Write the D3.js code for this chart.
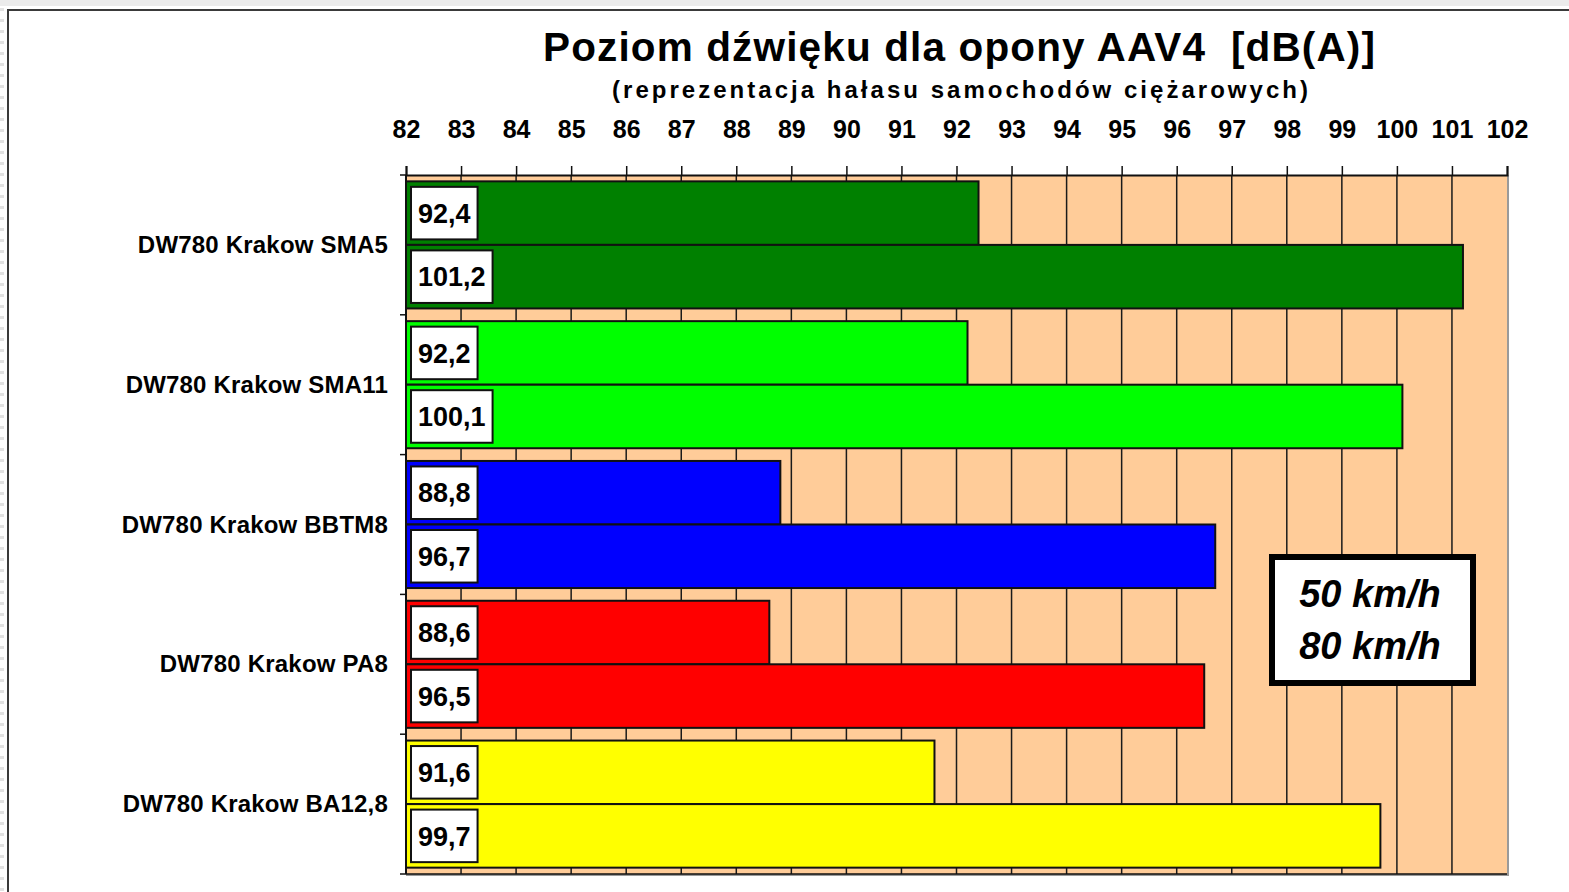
<!DOCTYPE html>
<html>
<head>
<meta charset="utf-8">
<script src="https://cdn.jsdelivr.net/npm/d3@7"></script>
<style>
  body { margin: 0; background: #fff; }
  svg { display: block; font-family: "Liberation Sans", Arial, sans-serif; }
</style>
</head>
<body>
<div id="chart"></div>
<script>
var categories = ["DW780 Krakow SMA5", "DW780 Krakow SMA11", "DW780 Krakow BBTM8", "DW780 Krakow PA8", "DW780 Krakow BA12,8"];
var series = ["50 km/h", "80 km/h"];
var values50 = [92.4, 92.2, 88.8, 88.6, 91.6];
var values80 = [101.2, 100.1, 96.7, 96.5, 99.7];
var barColors = ["#008000", "#00ff00", "#0000ff", "#ff0000", "#ffff00"];
var xTicks = d3.range(82, 103);

var width = 1569, height = 892;
var margin = {top: 175, right: 62, bottom: 18, left: 406}; // plot area
var plotW = width - margin.left - margin.right;
var plotH = height - margin.top - margin.bottom;

var pl = d3.formatLocale({decimal: ",", thousands: " ", grouping: [3], currency: ["", " zł"]});
var fmt = pl.format(".1f");

var svg = d3.select("#chart").append("svg")
  .attr("width", width)
  .attr("height", height);

// page frame
svg.append("rect").attr("x", 0).attr("y", 0).attr("width", width).attr("height", 6).attr("fill", "#ebebeb");
svg.selectAll(".dash").data(d3.range(8, height, 11)).enter().append("rect")
  .attr("x", 0).attr("y", function(d) { return d; }).attr("width", 4).attr("height", 3).attr("fill", "#e2e2e2");
svg.append("rect").attr("x", 8).attr("y", 10).attr("width", width + 10).attr("height", height + 10)
  .attr("fill", "#fff").attr("stroke", "#3a3a3a").attr("stroke-width", 2);

// titles (fitted to the widths seen in the original)
svg.append("text").attr("x", 543).attr("y", 61)
  .attr("font-size", 40.5).attr("font-weight", "bold")
  .attr("xml:space", "preserve")
  .attr("textLength", 832).attr("lengthAdjust", "spacing")
  .text("Poziom dźwięku dla opony AAV4  [dB(A)]");
svg.append("text").attr("x", 612).attr("y", 98)
  .attr("font-size", 24).attr("font-weight", "bold")
  .attr("textLength", 696).attr("lengthAdjust", "spacing")
  .text("(reprezentacja hałasu samochodów ciężarowych)");

var g = svg.append("g").attr("transform", "translate(" + margin.left + "," + margin.top + ")");

var x = d3.scaleLinear().domain([82, 102]).range([0, plotW]);
var y = d3.scaleBand().domain(categories).range([0, plotH]).padding(0);
var ySub = d3.scaleBand().domain(series).range([0, y.bandwidth()]).paddingInner(0).paddingOuter(0.1);

// plot background + shadow border
g.append("rect").attr("x", 1).attr("y", 1).attr("width", plotW).attr("height", plotH)
  .attr("fill", "#ffcc99").attr("stroke", "#9a9a9a").attr("stroke-width", 2);
g.append("rect").attr("width", plotW).attr("height", plotH).attr("fill", "#ffcc99");

// gridlines
g.selectAll(".grid").data(xTicks.slice(1, -1)).enter().append("line")
  .attr("x1", function(d) { return x(d); }).attr("x2", function(d) { return x(d); })
  .attr("y1", 0).attr("y2", plotH)
  .attr("stroke", "#1a1a1a").attr("stroke-width", 1.5);

// bars
var rows = categories.map(function(c, i) {
  return [
    {cat: c, s: series[0], v: values50[i], color: barColors[i]},
    {cat: c, s: series[1], v: values80[i], color: barColors[i]}
  ];
});

var group = g.selectAll(".grp").data(rows).enter().append("g")
  .attr("transform", function(d) { return "translate(0," + y(d[0].cat) + ")"; });

var bar = group.selectAll(".bar").data(function(d) { return d; }).enter().append("g");

bar.append("rect")
  .attr("x", x(82))
  .attr("y", function(d) { return ySub(d.s); })
  .attr("width", function(d) { return x(d.v) - x(82); })
  .attr("height", ySub.bandwidth())
  .attr("fill", function(d) { return d.color; })
  .attr("stroke", "#111").attr("stroke-width", 2);

// value labels in white boxes
var labels = bar.append("text")
  .attr("y", function(d) { return ySub(d.s) + ySub.bandwidth() / 2; })
  .attr("dy", "0.36em")
  .attr("text-anchor", "middle")
  .attr("font-size", 27).attr("font-weight", "bold")
  .text(function(d) { return fmt(d.v); });

labels.each(function(d) {
  var w = this.getComputedTextLength() + 14;
  d3.select(this).attr("x", 5 + w / 2);
  d3.select(this.parentNode).insert("rect", "text")
    .attr("x", 5)
    .attr("y", ySub(d.s) + 5.5)
    .attr("width", w)
    .attr("height", ySub.bandwidth() - 11)
    .attr("fill", "#fff").attr("stroke", "#111").attr("stroke-width", 2);
});

// top axis
var xAxis = g.append("g").call(d3.axisTop(x).tickValues(xTicks).tickSize(9).tickFormat(d3.format("d")));
xAxis.select(".domain").attr("stroke", "#111").attr("stroke-width", 2);
xAxis.selectAll(".tick line").attr("stroke", "#111").attr("stroke-width", 1.5);
xAxis.selectAll(".tick text").attr("y", -37).attr("dy", 0)
  .attr("font-size", 25).attr("font-weight", "bold").attr("fill", "#000")
  .attr("font-family", "Liberation Sans, Arial, sans-serif");

// left axis with ticks at band edges
g.append("line").attr("x1", 0).attr("x2", 0).attr("y1", 0).attr("y2", plotH)
  .attr("stroke", "#111").attr("stroke-width", 2);
g.append("line").attr("x1", 0).attr("x2", plotW).attr("y1", plotH).attr("y2", plotH)
  .attr("stroke", "#111").attr("stroke-width", 1.5);
g.selectAll(".ytick").data(d3.range(categories.length + 1)).enter().append("line")
  .attr("x1", -6).attr("x2", 0)
  .attr("y1", function(i) { return i * y.step(); }).attr("y2", function(i) { return i * y.step(); })
  .attr("stroke", "#111").attr("stroke-width", 1.5);

g.selectAll(".ylab").data(categories).enter().append("text")
  .attr("x", -18)
  .attr("y", function(d) { return y(d) + y.bandwidth() / 2; })
  .attr("dy", "0.34em")
  .attr("text-anchor", "end")
  .attr("font-size", 24).attr("font-weight", "bold").attr("letter-spacing", 0.2)
  .text(function(d) { return d; });

// legend box
var lg = svg.append("g").attr("transform", "translate(1272,557)");
lg.append("rect").attr("width", 201).attr("height", 126)
  .attr("fill", "#fff").attr("stroke", "#000").attr("stroke-width", 6);
lg.selectAll("text").data(series).enter().append("text")
  .attr("x", 98)
  .attr("y", function(d, i) { return 50 + i * 51.5; })
  .attr("text-anchor", "middle")
  .attr("font-size", 38).attr("font-weight", "bold").attr("font-style", "italic")
  .text(function(d) { return d; });
</script>
</body>
</html>
